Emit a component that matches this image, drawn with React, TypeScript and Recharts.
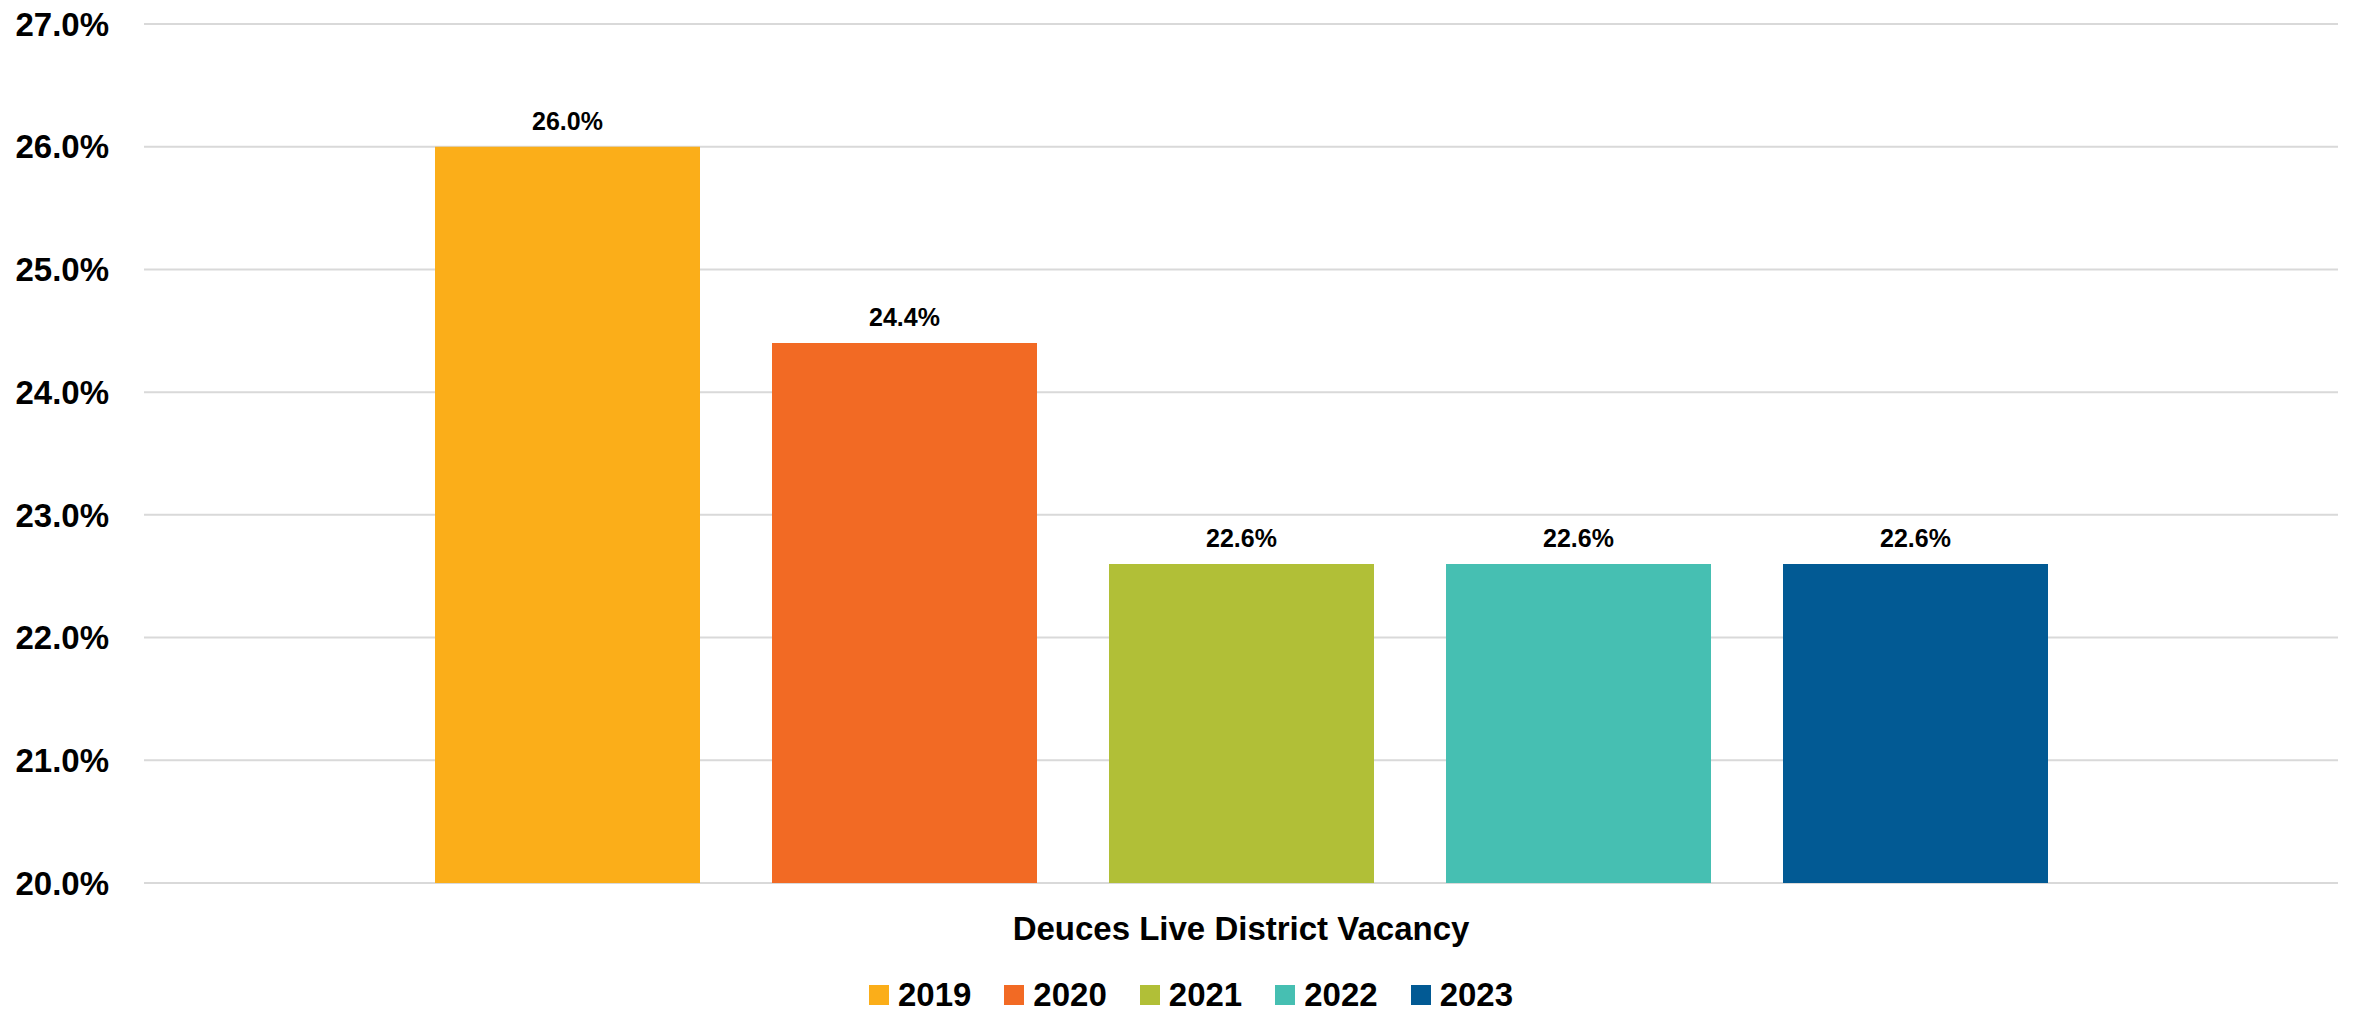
import React from 'react';
import { BarChart, Bar, XAxis, YAxis, CartesianGrid, Legend, LabelList } from 'recharts';

const categories = ['Deuces Live District Vacancy'];
const seriesNames = ['2019', '2020', '2021', '2022', '2023'];
const seriesValues = [26.0, 24.4, 22.6, 22.6, 22.6];
const seriesColors = ['#FBAE19', '#F26A24', '#B1BF37', '#46BFB2', '#025A94'];
const yTicks = [20, 21, 22, 23, 24, 25, 26, 27];

const data = categories.map((c) => {
  const row: Record<string, any> = { category: c };
  seriesNames.forEach((s, i) => {
    row[s] = seriesValues[i];
  });
  return row;
});

const FONT = '"Liberation Sans", Arial, Helvetica, sans-serif';

const CategoryTick = (props: any) => {
  const { x, y, payload } = props;
  return (
    <text
      x={x}
      y={y}
      dy={45}
      textAnchor="middle"
      dominantBaseline="central"
      fontFamily={FONT}
      fontWeight="bold"
      fontSize={33}
      fill="#000"
    >
      {payload.value}
    </text>
  );
};

const LegendContent = (props: any) => {
  const payload = props.payload || [];
  return (
    <div
      style={{
        display: 'flex',
        justifyContent: 'center',
        alignItems: 'center',
        height: 30,
        paddingLeft: 44,
        fontFamily: FONT,
        fontWeight: 'bold',
        fontSize: 33,
        color: '#000',
      }}
    >
      {payload.map((p: any, i: number) => (
        <div key={i} style={{ display: 'flex', alignItems: 'center', marginRight: i < payload.length - 1 ? 33 : 0 }}>
          <span style={{ display: 'inline-block', width: 20, height: 20, background: p.color, marginRight: 9 }} />
          <span style={{ lineHeight: '30px' }}>{p.value}</span>
        </div>
      ))}
    </div>
  );
};

export default function App() {
  return (
    <div style={{ position: 'absolute', left: 0, top: 0, width: 2354, height: 1010, background: '#fff' }}>
      <BarChart
        width={2354}
        height={1010}
        data={data}
        margin={{ top: 24, right: 16, bottom: 0, left: 0 }}
        barSize={265}
        barGap={72}
      >
        <CartesianGrid horizontal={true} vertical={false} stroke="#D9D9D9" strokeWidth={2} />
        <XAxis
          dataKey="category"
          height={97}
          axisLine={false}
          tickLine={false}
          tickSize={0}
          tickMargin={0}
          tick={<CategoryTick />}
        />
        <YAxis
          width={144}
          domain={[20, 27]}
          ticks={yTicks}
          interval={0}
          axisLine={false}
          tickLine={false}
          tickSize={0}
          tickMargin={35}
          tickFormatter={(v: number) => `${v.toFixed(1)}%`}
          tick={{ fontFamily: FONT, fontWeight: 'bold', fontSize: 33, fill: '#000' }}
          allowDataOverflow={true}
        />
        <Legend verticalAlign="bottom" align="center" height={30} content={<LegendContent />} />
        {seriesNames.map((s, i) => (
          <Bar key={s} dataKey={s} name={s} fill={seriesColors[i]} isAnimationActive={false}>
            <LabelList
              dataKey={s}
              position="top"
              offset={17}
              formatter={(v: any) => `${Number(v).toFixed(1)}%`}
              style={{ fontFamily: FONT, fontWeight: 'bold', fontSize: 25, fill: '#000' }}
            />
          </Bar>
        ))}
      </BarChart>
    </div>
  );
}
